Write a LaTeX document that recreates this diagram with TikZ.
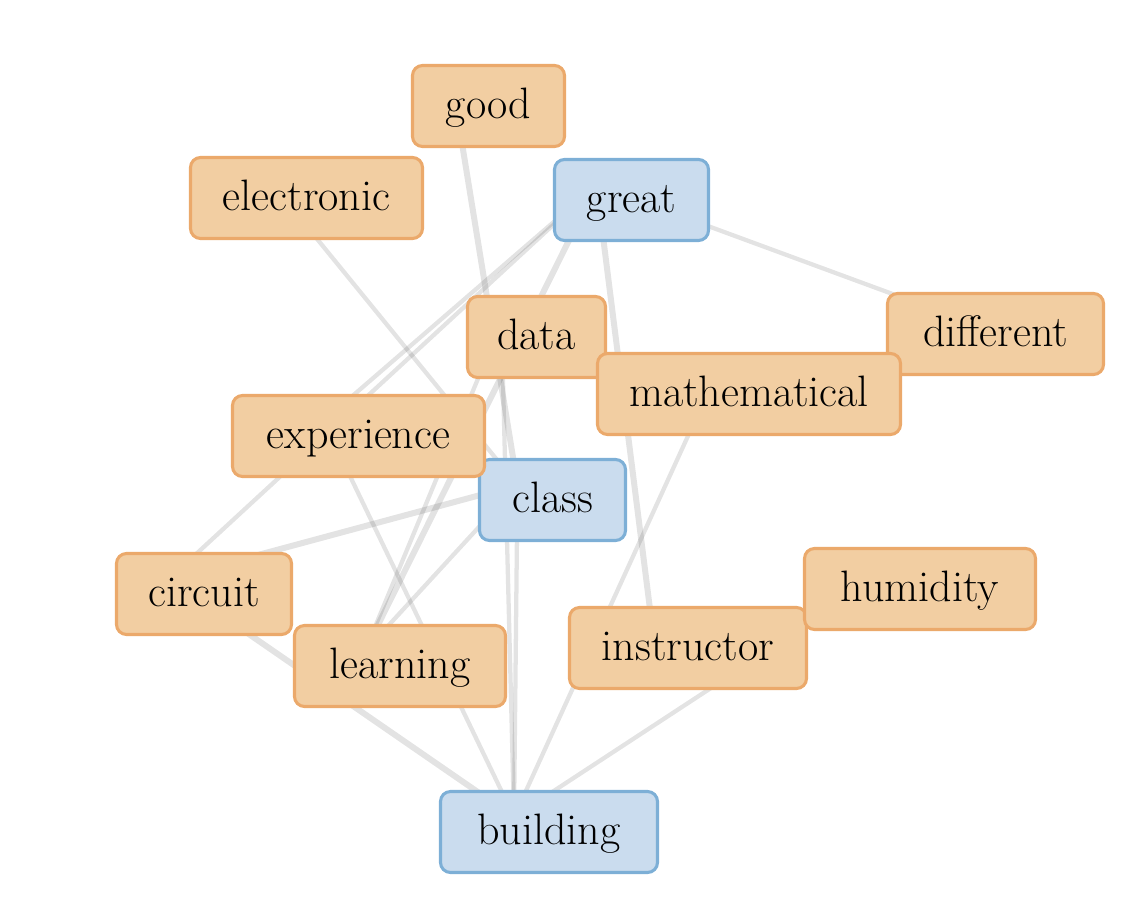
\documentclass[tikz,border=0pt]{standalone}
\usepackage{fontspec}
\usetikzlibrary{calc,backgrounds}
\definecolor{ofill}{HTML}{F2CEA2}
\definecolor{odraw}{HTML}{EBA96B}
\definecolor{bfill}{HTML}{CADCEE}
\definecolor{bdraw}{HTML}{7DAFD6}
\tikzset{
  box/.style={rectangle, rounded corners=7.5pt, line width=2.3pt, minimum height=60.75pt,
    inner sep=0pt, outer sep=0pt, text height=25pt, text depth=6.5pt,
    font=\fontsize{33}{40}\selectfont, text=black},
  obox/.style={box, fill=ofill, draw=odraw},
  bbox/.style={box, fill=bfill, draw=bdraw},
  link/.style={draw=black, opacity=0.11, line width=3.2pt},
  thick link/.style={link, line width=4.5pt},
}
\begin{document}
\begin{tikzpicture}[x=0.75pt, y=-0.75pt]
\useasboundingbox (0,0) rectangle (1144,913);
\node[obox, minimum width=114pt]    (good)         at (488.5,106) {good};
\node[obox, minimum width=174pt]    (electronic)   at (306.5,198) {electronic};
\node[bbox, minimum width=115.5pt]  (great)        at (631.5,200) {great};
\node[obox, minimum width=103.5pt]  (data)         at (536.5,337) {data};
\node[obox, minimum width=162pt]    (different)    at (995.5,334) {different};
\node[obox, minimum width=227.25pt] (mathematical) at (749,394)   {mathematical};
\node[bbox, minimum width=109.5pt]  (class)        at (552.5,500) {class};
\node[obox, minimum width=189pt]    (experience)   at (358.5,436) {experience};
\node[obox, minimum width=131.25pt] (circuit)      at (204,594)   {circuit};
\node[obox, minimum width=158.25pt] (learning)     at (400,666)   {learning};
\node[obox, minimum width=177.75pt] (instructor)   at (688,648)   {instructor};
\node[obox, minimum width=173.25pt] (humidity)     at (920,589)   {humidity};
\node[bbox, minimum width=162.75pt] (building)     at (549,832)   {building};
\foreach \n in {good,electronic,great,data,different,mathematical,class,experience,circuit,learning,instructor,humidity,building}
  \coordinate (\n-a) at ($(\n.center)+(-35,-15)$);
\begin{scope}[on background layer]
  \draw[thick link] (good-a) -- (class-a);
  \draw[link] (electronic-a) -- (class-a);
  \draw[link] (great-a) -- (different-a);
  \draw[thick link] (great-a) -- (instructor-a);
  \draw[thick link] (great-a) -- (learning-a);
  \draw[link] (great-a) -- (circuit-a);
  \draw[link] (great-a) -- (experience-a);
  \draw[link] (data-a) -- (learning-a);
  \draw[link] (data-a) -- (building-a);
  \draw[link] (class-a) -- (building-a);
  \draw[link] (class-a) -- (learning-a);
  \draw[thick link] (class-a) -- (circuit-a);
  \draw[thick link] (circuit-a) -- (building-a);
  \draw[link] (experience-a) -- (building-a);
  \draw[link] (mathematical-a) -- (building-a);
  \draw[link] (humidity-a) -- (building-a);
\end{scope}
\end{tikzpicture}
\end{document}
